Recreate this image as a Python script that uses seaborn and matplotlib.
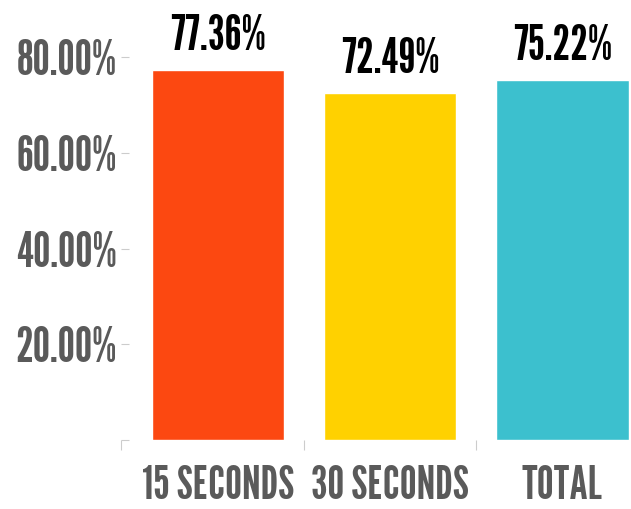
import matplotlib
matplotlib.use("Agg")
import matplotlib.pyplot as plt
import seaborn as sns

# values
categories = ["15 SECONDS", "30 SECONDS", "TOTAL"]
values = [77.36, 72.49, 75.22]
colors = ["#FC4811", "#FFD100", "#3CC0CE"]
yticks = [0, 20, 40, 60, 80]
ytick_labels = ["", "20.00%", "40.00%", "60.00%", "80.00%"]

sns.set_style("white")
plt.rcParams["font.family"] = ["League Gothic", "DejaVu Sans"]

fig = plt.figure(figsize=(6.31, 5.09), dpi=100)
ax = fig.add_axes([121 / 631, 69 / 509, 579 / 631, 440 / 509])

sns.barplot(x=categories, y=values, hue=categories, palette=colors,
            width=0.77, saturation=1, legend=False, ax=ax)

ax.set_xlim(-0.564, 2.80)
ax.set_ylim(0, 92)
sns.despine(ax=ax, left=True, bottom=True)

# value labels above bars
for i, v in enumerate(values):
    ax.annotate(f"{v:.2f}%", (i, v), xytext=(0, 8), textcoords="offset points",
                ha="center", va="bottom", fontsize=35, color="black")

ax.set_yticks(yticks)
ax.set_yticklabels(ytick_labels)
ax.tick_params(axis="y", direction="in", length=6, width=0.8, color="#cccccc",
               pad=3, labelsize=35, labelcolor="#5a5a5a", left=True)

ax.set_xticks(range(len(categories)))
ax.set_xticklabels(categories)
ax.set_xticks([-0.564, 0.5, 1.5], minor=True)
ax.tick_params(axis="x", which="major", length=0, pad=18, labelsize=34, labelcolor="#5a5a5a")
ax.tick_params(axis="x", which="minor", direction="out", length=7, width=0.8,
               color="#cccccc", bottom=True)
ax.set_xlabel("")
ax.set_ylabel("")

fig.savefig("out.png", dpi=100)
